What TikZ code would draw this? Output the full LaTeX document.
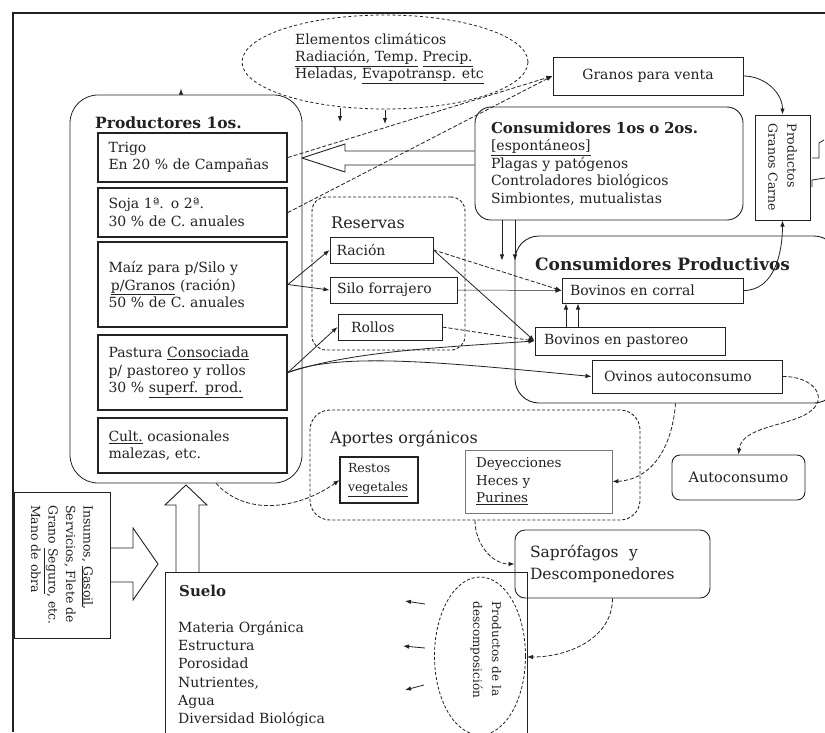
\documentclass[tikz,border=0pt]{standalone}
\usepackage{fontspec}
\setmainfont{DejaVu Serif}
\usetikzlibrary{arrows.meta,shapes.geometric,calc}
\newcommand{\wu}[1]{\underline{#1}}
\definecolor{ink}{HTML}{222222}
\definecolor{lgray}{HTML}{777777}
\begin{document}
\begin{tikzpicture}[x=1pt,y=1pt,
  every node/.style={font=\fontsize{14}{17.5}\selectfont, inner sep=0pt, text=ink},
  box/.style={draw=ink, line width=1pt, align=left},
  pbox/.style={draw=ink, line width=1.8pt, align=left, text width=168pt, minimum width=189pt},
  rbox/.style={draw=ink, line width=0.9pt, align=left},
  dbox/.style={draw=ink, line width=0.9pt, dash pattern=on 3pt off 2pt},
  ttl/.style={font=\fontsize{15.5}{19}\selectfont\bfseries},
  sec/.style={font=\fontsize{16}{19}\selectfont},
  arr/.style={draw=ink, line width=0.8pt, -{Latex[length=6pt,width=4.5pt]}},
  darr/.style={arr, dash pattern=on 4pt off 2pt},
  hollow/.style={draw=ink, line width=0.9pt},
]
\useasboundingbox (0,0) rectangle (825,-732);
\fill[white] (0,0) rectangle (825,-732);
% frame
\draw[line width=1.6pt, ink] (825,-13) -- (13,-13) -- (13,-732);

% climate ellipse
\node[draw=ink, ellipse, line width=0.8pt, dash pattern=on 3pt off 2.5pt, minimum width=286pt, minimum height=94pt] (clima) at (385,-62) {};
\node[anchor=north west, align=left, font=\fontsize{14}{17}\selectfont] (climat) at (295,-33)
  {Elementos climáticos\\ \wu{Radiación, Temp.} \wu{Precip.}\\ Heladas, \textcolor{ink}{\wu{Evapotransp. etc}}};
\coordinate (c1) at (340,-108);
\coordinate (c2) at (385,-110);
\draw[arr] (c1) -- ++(0,-14);
\draw[arr] (c2) -- ++(0,-14);

% Productores
\node[draw=ink, line width=0.8pt, rounded corners=28pt, minimum width=232pt, minimum height=388pt] (prod) at (186,-289) {};
\node[ttl, anchor=base west] (prodt) at (95,-128) {Productores 1os.};
\draw[arr] ([xshift=-5pt]prod.north) -- ++(0,6);
\node[pbox, minimum height=49pt] (trigo) at (192.5,-157.5) {Trigo\\En 20 \% de Campañas};
\node[pbox, minimum height=49pt] (soja) at (192.5,-212.5) {Soja 1ª. o 2ª.\\30 \% de C. anuales};
\node[pbox, minimum height=85pt] (maiz) at (192.5,-284.5) {Maíz para p/Silo y\\ \,\wu{p/Granos} (ración)\\50 \% de C. anuales};
\node[pbox, minimum height=75pt] (pastura) at (192.5,-372.5) {Pastura \wu{Consociada}\\p/ pastoreo y rollos\\30 \% \wu{superf. prod.}};
\node[pbox, minimum height=55pt] (cult) at (192.5,-445.5) {\wu{Cult.} ocasionales\\malezas, etc.};

% Granos para venta
\node[box, align=center, minimum width=190pt, minimum height=38pt] (granos) at (648,-76) {Granos para venta};

% Consumidores 1os
\node[rbox, rounded corners=16pt, minimum width=268pt, minimum height=113pt, text width=236pt] (cons1) at (609,-163.5)
  {{\fontsize{15}{18}\selectfont\bfseries Consumidores 1os o 2os.}\\ \wu{[espontáneos]}\\ Plagas y patógenos\\ Controladores biológicos\\ Simbiontes, mutualistas};

% hollow arrow cons1 -> trigo
\draw[hollow] (cons1.west |- 0,-151) -- (345,-151) -- (345,-144) -- (302,-158) -- (345,-172) -- (345,-165) -- (cons1.west |- 0,-165);

% Productos
\node[box, minimum width=55pt, minimum height=105pt] (productos) at (782.5,-167.5) {};
\node[rotate=-90, align=left, font=\fontsize{12.5}{19}\selectfont] (productost) at (productos.center) {Productos\\Granos Carne};
\draw[line width=0.8pt, ink] (812,-158) -- (819,-158) -- (819,-143) -- (824,-140);
\draw[line width=0.8pt, ink] (812,-187) -- (812,-180) -- (825,-178);

% Consumidores productivos
\node[rbox, rounded corners=24pt, minimum width=323pt, minimum height=167pt] (consprod) at (676.5,-319.5) {};
\node[anchor=base west, font=\fontsize{17}{20}\selectfont\bfseries] (consprodt) at (535,-270) {Consumidores Productivos};
\node[box, minimum width=181pt, minimum height=25pt, text width=165pt] (corral) at (652.5,-290.5) {Bovinos en corral};
\node[box, minimum width=190pt, minimum height=28pt, text width=172pt] (pastoreo) at (630,-341) {Bovinos en pastoreo};
\node[box, minimum width=190pt, minimum height=33pt, text width=166pt] (ovinos) at (687,-376.5) {Ovinos autoconsumo};

% Reservas
\node[dbox, rounded corners=14pt, minimum width=153pt, minimum height=153pt] (reservas) at (388.5,-273.5) {};
\node[sec, anchor=base west] (reservast) at (331,-228) {Reservas};
\node[box, minimum width=103pt, minimum height=26pt, text width=90pt] (racion) at (381.5,-250) {Ración};
\node[box, minimum width=127pt, minimum height=26pt, text width=113pt] (silo) at (393.5,-290) {Silo forrajero};
\node[box, minimum width=104pt, minimum height=26pt, text width=78pt] (rollos) at (390,-327) {Rollos};

% Aportes organicos
\node[dbox, rounded corners=20pt, minimum width=330pt, minimum height=110pt] (aportes) at (475,-465) {};
\node[sec, anchor=base west] (aportest) at (330,-443) {Aportes orgánicos};
\node[box, line width=1.2pt, minimum width=78pt, minimum height=46pt, text width=62pt, font=\fontsize{12.5}{19}\selectfont] (restos) at (379,-480) {Restos\\ \wu{vegetales}};
\node[draw=lgray, line width=0.7pt, align=left, minimum width=147pt, minimum height=63pt, text width=125pt, font=\fontsize{13.5}{17.5}\selectfont] (deyec) at (538.5,-481.5) {Deyecciones\\Heces y\\ \wu{Purines}};

% Autoconsumo
\node[rbox, align=center, rounded corners=8pt, minimum width=133pt, minimum height=45pt, font=\fontsize{14.5}{17.5}\selectfont] (autocons) at (738.5,-477.5) {Autoconsumo};

% Saprofagos
\node[rbox, rounded corners=10pt, minimum width=195pt, minimum height=68pt, text width=165pt, font=\fontsize{15.5}{22}\selectfont] (sapro) at (612.5,-564) {Saprófagos \ y\\Descomponedores};

% Suelo
\node[draw=ink, line width=0.8pt, minimum width=362pt, minimum height=173pt] (suelo) at (346,-658.5) {};
\draw[line width=1.7pt, ink] (suelo.north east) -- (suelo.south east);
\node[anchor=base west, font=\fontsize{15}{18}\selectfont\bfseries] (suelot) at (179,-596) {Suelo};
\node[anchor=north west, align=left, font=\fontsize{14}{18.2}\selectfont] (suelol) at (178,-621)
  {Materia Orgánica\\Estructura\\Porosidad\\Nutrientes,\\Agua\\Diversidad Biológica};

% Decomposition ellipse
\node[draw=ink, ellipse, line width=0.8pt, dash pattern=on 3pt off 2pt, minimum width=91pt, minimum height=158pt] (descomp) at (480,-656) {};
\node[rotate=-90, align=left, font=\fontsize{12}{19}\selectfont] (descompt) at (486,-650) {Productos de la\\descomposición};
\draw[arr] (425,-604) -- (405,-601);
\draw[arr] (425,-648) -- (403,-646);
\draw[arr] (424,-685) -- (405,-690);

% Insumos
\node[box, minimum width=96pt, minimum height=146pt] (insumos) at (62,-565) {};
\node[rotate=-90, align=left, font=\fontsize{12.5}{17.5}\selectfont] (insumost) at (insumos.center)
  {Insumos, \wu{Gasoil},\\Servicios, Flete de\\Grano \wu{Seguro}, etc.\\Mano de obra};

% hollow arrows
\draw[hollow] (insumos.east |- 0,-548) -- (133,-548) -- (133,-528) -- (158,-564) -- (133,-600) -- (133,-582) -- (insumos.east |- 0,-582);
\draw[hollow] (176,-572) -- (176,-505) -- (165,-505) -- (186,-485) -- (207,-505) -- (199,-505) -- (199,-572);

% connectors
\draw[darr] (trigo.east) -- (granos.west);
\draw[darr] (soja.east) -- (granos.west);
\draw[arr] (maiz.east) -- (racion.west);
\draw[arr] (maiz.east) -- (silo.west);
\draw[arr] (pastura.east) -- (rollos.west);
\draw[arr] (pastura.east) .. controls (350,-352) and (430,-348) .. (pastoreo.west);
\draw[arr] (pastura.east) .. controls (340,-352) and (440,-362) .. (ovinos.west);
\draw[arr] (racion.east) -- (pastoreo.west);
\draw[darr] (racion.east) -- (corral.west);
\draw[arr, line width=0.5pt] (silo.east) -- (corral.west);
\draw[darr] (rollos.east) -- (pastoreo.west);
\draw[arr] ([xshift=-64pt]pastoreo.north) -- ([xshift=-86.5pt]corral.south);
\draw[arr] ([xshift=-52pt]pastoreo.north) -- ([xshift=-74.5pt]corral.south);
\draw[arr] ([xshift=-107pt]cons1.south) -- ++(0,-40);
\draw[arr] ([xshift=-94pt]cons1.south) -- ++(0,-40);
\draw[arr] (granos.east) to[out=0,in=90] (productos.north);
\draw[arr] (corral.east) to[out=0,in=-90] (productos.south);
\draw[darr] (ovinos.east) .. controls (812,-376) and (828,-396) .. (812,-410) .. controls (795,-426) and (742,-425) .. (autocons.north);
\draw[darr] ([xshift=-1pt]consprod.south) .. controls (672,-450) and (650,-480) .. (deyec.east);
\draw[darr] ([xshift=30pt]prod.south) .. controls (250,-520) and (305,-505) .. (restos.west);
\draw[darr] (aportes.south) to[out=-90,in=180] (sapro.west);
\coordinate (suelin) at (527,-657);
\draw[darr] (sapro.south) to[out=-90,in=0] (suelin);
\end{tikzpicture}
\end{document}
